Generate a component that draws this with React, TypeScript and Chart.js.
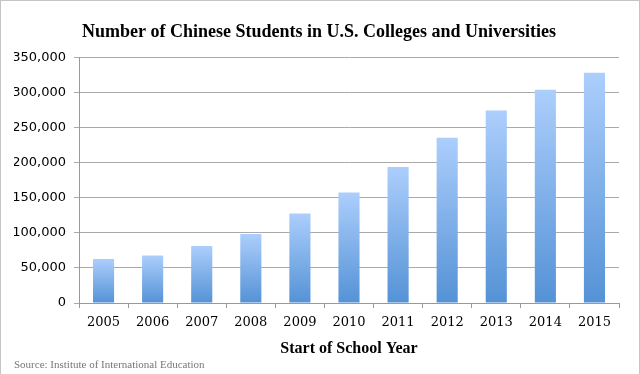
import React, { useEffect, useRef } from "react";
import { Chart, registerables } from "chart.js";

Chart.register(...registerables);

const years = ["2005", "2006", "2007", "2008", "2009", "2010", "2011", "2012", "2013", "2014", "2015"];
const students = [62582, 67723, 81127, 98235, 127628, 157558, 194029, 235597, 274439, 304040, 328547];
const titleText = "Number of Chinese Students in U.S. Colleges and Universities";
const xTitleText = "Start of School Year";
const sourceText = "Source: Institute of International Education";

export default function App() {
  const ref = useRef<HTMLCanvasElement | null>(null);
  useEffect(() => {
    document.body.style.margin = "0";
    const canvas = ref.current!;
    const chart = new Chart(canvas, {
      type: "bar",
      data: {
        labels: years,
        datasets: [
          {
            data: students,
            backgroundColor: (ctx: any) => {
              const c = ctx.chart;
              const area = c.chartArea;
              const ys = c.scales && c.scales.y;
              if (!area || !ys || ctx.raw == null) return "#8ab4ea";
              const top = ys.getPixelForValue(ctx.raw);
              const g = c.ctx.createLinearGradient(0, top, 0, area.bottom);
              g.addColorStop(0, "rgb(172,206,252)");
              g.addColorStop(1, "rgb(84,146,214)");
              return g;
            },
            borderWidth: 0,
            barPercentage: 0.43,
            categoryPercentage: 1,
          },
        ],
      },
      options: {
        animation: false,
        responsive: false,
        maintainAspectRatio: false,
        layout: { padding: { left: 13, right: 14, top: 0, bottom: 2 } },
        plugins: {
          legend: { display: false },
          tooltip: { enabled: false },
          title: {
            display: true,
            text: titleText,
            color: "#000",
            font: { family: "Liberation Serif", size: 18, weight: "bold" },
            padding: { top: 21, bottom: 14 },
          },
          subtitle: {
            display: true,
            text: sourceText,
            position: "bottom",
            align: "start",
            color: "#777",
            font: { family: "Liberation Serif", size: 11 },
            padding: { top: 0, bottom: 0 },
          },
        },
        scales: {
          x: {
            grid: { display: true, drawOnChartArea: false, drawTicks: true, tickLength: 5, color: "#999", offset: true },
            border: { color: "#999" },
            ticks: { color: "#000", font: { family: "DejaVu Serif", size: 13 }, padding: 7, maxRotation: 0 },
            title: {
              display: true,
              text: xTitleText,
              color: "#000",
              font: { family: "Liberation Serif", size: 16, weight: "bold" },
              padding: { top: 2, bottom: 0 },
            },
          },
          y: {
            min: 0,
            max: 350000,
            afterFit: (s: any) => {
              s.width = 65;
            },
            grid: { color: "#aaa", tickLength: 5 },
            border: { color: "#999" },
            ticks: {
              stepSize: 50000,
              color: "#000",
              font: { family: "DejaVu Sans", size: 13 },
              padding: 8,
              callback: (v: any) => Number(v).toLocaleString("en-US"),
            },
          },
          y2: {
            position: "right",
            display: true,
            min: 0,
            max: 1,
            afterFit: (s: any) => {
              s.width = 5;
            },
            grid: { display: false, drawTicks: false },
            border: { display: false },
            ticks: { display: false },
          },
        },
      },
    });
    return () => chart.destroy();
  }, []);
  return (
    <div
      style={{
        width: 640,
        height: 374,
        boxSizing: "border-box",
        borderTop: "1px solid #c4c4c4",
        borderLeft: "1px solid #c4c4c4",
        borderRight: "1px solid #c4c4c4",
        position: "relative",
        background: "#fff",
      }}
    >
      <canvas ref={ref} width={637} height={373} style={{ display: "block" }} />
    </div>
  );
}
